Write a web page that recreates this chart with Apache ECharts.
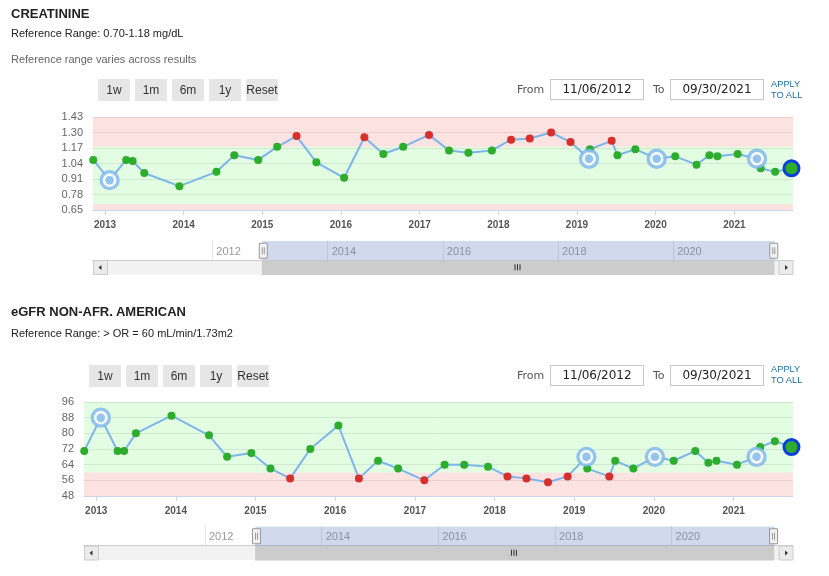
<!DOCTYPE html>
<html lang="en">
<head>
<meta charset="utf-8">
<title>CREATININE / eGFR</title>
<script src="https://cdn.jsdelivr.net/npm/echarts@6.0.0/dist/echarts.min.js"></script>
<style>
    html, body {
        width: 829px;
        height: 576px;
        margin: 0;
        padding: 0;
        background: #fff;
        overflow: hidden;
        font-family: "Liberation Sans", Arial, sans-serif;
    }
    #main {
        position: absolute;
        left: 0;
        top: 0;
        width: 829px;
        height: 576px;
    }
    .t { position: absolute; white-space: nowrap; z-index: 2; }
    .title { left: 11px; font-size: 13px; line-height: 15px; font-weight: bold; color: #222; }
    .ref { left: 11px; font-size: 11px; line-height: 13px; color: #222; }
    .note { left: 11px; font-size: 11px; line-height: 13px; color: #666; }
    .btn {
        position: absolute; z-index: 2; width: 32px; height: 22px;
        background: #e6e6e6; color: #333; font-size: 12px; line-height: 22px; text-align: center;
    }
    .lbl { font-family: "DejaVu Sans", sans-serif; font-size: 11px; line-height: 21px; color: #555; }
    .inp {
        position: absolute; z-index: 2; width: 94px; height: 21px; box-sizing: border-box;
        border: 1px solid #c8c8c8; background: #fff; text-align: center;
        font-family: "DejaVu Sans", sans-serif; font-size: 12px; line-height: 19px; color: #222;
    }
    .apply { left: 771px; font-size: 9.3px; line-height: 11.3px; color: #236fa1; }
</style>
</head>
<body>
<!-- creatinine header -->
<div class="t title" style="top:5.6px">CREATININE</div>
<div class="t ref" style="top:27px">Reference Range: 0.70-1.18 mg/dL</div>
<div class="t note" style="top:52.6px">Reference range varies across results</div>
<div class="btn" style="left:98px;top:79px">1w</div>
<div class="btn" style="left:135px;top:79px">1m</div>
<div class="btn" style="left:172px;top:79px">6m</div>
<div class="btn" style="left:209px;top:79px">1y</div>
<div class="btn" style="left:246px;top:79px">Reset</div>
<div class="t lbl" style="left:517px;top:79px">From</div>
<div class="inp" style="left:550px;top:79px">11/06/2012</div>
<div class="t lbl" style="left:653px;top:79px">To</div>
<div class="inp" style="left:670px;top:79px">09/30/2021</div>
<div class="t apply" style="top:78.5px">APPLY<br>TO ALL</div>

<!-- eGFR header -->
<div class="t title" style="top:304px">eGFR NON-AFR. AMERICAN</div>
<div class="t ref" style="top:327px">Reference Range: &gt; OR = 60 mL/min/1.73m2</div>
<div class="btn" style="left:89px;top:365px">1w</div>
<div class="btn" style="left:126px;top:365px">1m</div>
<div class="btn" style="left:163px;top:365px">6m</div>
<div class="btn" style="left:200px;top:365px">1y</div>
<div class="btn" style="left:237px;top:365px">Reset</div>
<div class="t lbl" style="left:517px;top:365px">From</div>
<div class="inp" style="left:550px;top:365px">11/06/2012</div>
<div class="t lbl" style="left:653px;top:365px">To</div>
<div class="inp" style="left:670px;top:365px">09/30/2021</div>
<div class="t apply" style="top:364px">APPLY<br>TO ALL</div>

<div id="main"></div>
<script>
    // result dates (shared by both tests)
    var dates = ['2012-11-07', '2013-01-22', '2013-04-09', '2013-05-09', '2013-07-02', '2013-12-12',
        '2014-06-02', '2014-08-24', '2014-12-13', '2015-03-11', '2015-06-09', '2015-09-09',
        '2016-01-16', '2016-04-19', '2016-07-16', '2016-10-16', '2017-02-13', '2017-05-17',
        '2017-08-15', '2017-12-02', '2018-03-01', '2018-05-27', '2018-09-03', '2018-12-02',
        '2019-02-26', '2019-03-02', '2019-06-11', '2019-07-08', '2019-09-29', '2020-01-06',
        '2020-04-01', '2020-07-09', '2020-09-07', '2020-10-14', '2021-01-16', '2021-04-16',
        '2021-05-03', '2021-07-09', '2021-09-23'];
    var creatinine = [1.07, 0.90, 1.07, 1.06, 0.96, 0.85, 0.97, 1.11, 1.07, 1.18, 1.27, 1.05,
        0.92, 1.26, 1.12, 1.18, 1.28, 1.15, 1.13, 1.15, 1.24, 1.25, 1.30, 1.22,
        1.08, 1.16, 1.23, 1.11, 1.16, 1.08, 1.10, 1.03, 1.11, 1.10, 1.12, 1.08,
        1.00, 0.97, 1.00];
    var egfr = [71, 88, 71, 71, 80, 89, 79, 68, 70, 62, 57, 72,
        84, 57, 66, 62, 56, 64, 64, 63, 58, 57, 55, 58,
        68, 62, 58, 66, 62, 68, 66, 71, 65, 66, 64, 68,
        73, 76, 73];
    // results drawn with the ringed marker
    var flagged = [1, 24, 29, 35];

    var creatRange = [0.70, 1.18];
    var creatAxis = [0.65, 1.43, 0.13];
    var egfrRange = [60, 96];
    var egfrAxis = [48, 96, 8];

    var yearTicks = [2013, 2014, 2015, 2016, 2017, 2018, 2019, 2020, 2021];
    var navYears = [2012, 2014, 2016, 2018, 2020];
    var viewRange = ['2012-11-06', '2021-09-30'];
    var navRange = ['2009-12-05', '2022-01-30'];

    var GREEN = '#2cae2c', RED = '#d7302c', LINE = '#7cb5ec';

    // dates are kept as milliseconds on a plain value axis
    function ts(s) {
        var p = s.split('-');
        return new Date(+p[0], +p[1] - 1, +p[2]).getTime();
    }
    function yearTs(list) {
        return list.map(function (y) { return new Date(y, 0, 1).getTime(); });
    }
    function yearLabel(v) { return String(new Date(v + 36e5).getFullYear()); }

    var panels = [
        {values: creatinine, axis: creatAxis, range: creatRange, digits: 2,
            left: 93, width: 700, top: 117, height: 93, navTop: 240.5},
        {values: egfr, axis: egfrAxis, range: egfrRange, digits: 0,
            left: 84, width: 709, top: 402, height: 94, navTop: 526}
    ];

    var option = {
        animation: false,
        textStyle: {fontFamily: 'Liberation Sans'},
        grid: [], xAxis: [], yAxis: [], series: [], dataZoom: [], graphic: []
    };

    panels.forEach(function (p, k) {
        var g = k * 3;
        var lo = p.range[0], hi = p.range[1];
        var isOut = function (v) { return v < lo || v > hi; };

        option.grid.push(
            {left: p.left, top: p.top, width: p.width, height: p.height},
            {left: p.left, top: p.navTop, width: p.width, height: 19.5},
            {left: p.left, top: p.navTop + 19.5, width: p.width, height: 14.5,
                show: true, backgroundColor: '#f2f2f2', borderWidth: 0}
        );

        option.xAxis.push({
            type: 'value', gridIndex: g, min: ts(navRange[0]), max: ts(navRange[1]),
            axisLine: {lineStyle: {color: '#ccd6eb'}},
            axisTick: {customValues: yearTs(yearTicks), length: 5, lineStyle: {color: '#ccd6eb'}},
            axisLabel: {customValues: yearTs(yearTicks), formatter: yearLabel, margin: 10,
                fontSize: 10, fontWeight: 'bold', color: '#555'},
            splitLine: {show: false}
        }, {
            type: 'value', gridIndex: g + 1, position: 'top', min: ts(navRange[0]), max: ts(navRange[1]),
            axisLine: {lineStyle: {color: '#cccccc'}},
            axisTick: {show: false, customValues: yearTs(navYears)},
            axisLabel: {customValues: yearTs(navYears), formatter: yearLabel, inside: true, margin: 11,
                align: 'left', verticalAlign: 'middle', padding: [0, 0, 0, 4], fontSize: 11, color: '#999'},
            splitLine: {show: true, lineStyle: {color: '#e6e6e6'}}
        }, {
            type: 'value', gridIndex: g + 2, show: false
        });

        option.yAxis.push({
            type: 'value', gridIndex: g, min: p.axis[0], max: p.axis[1], interval: p.axis[2],
            axisLine: {show: false}, axisTick: {show: false},
            axisLabel: {formatter: function (v) { return v.toFixed(p.digits); },
                margin: 10, fontSize: 11, color: '#666'},
            splitLine: {lineStyle: {color: '#e6e6e6'}}
        }, {
            type: 'value', gridIndex: g + 1, show: false
        }, {
            type: 'value', gridIndex: g + 2, show: false
        });

        var pts = dates.map(function (d, i) {
            var item = {value: [ts(d), p.values[i]], itemStyle: {color: isOut(p.values[i]) ? RED : GREEN}};
            if (flagged.indexOf(i) >= 0) item.symbol = 'none';
            if (i === dates.length - 1) {
                item.symbolSize = 15;
                item.itemStyle.borderColor = '#0b3fd9';
                item.itemStyle.borderWidth = 3;
            }
            return item;
        });
        var marked = flagged.map(function (i) { return [ts(dates[i]), p.values[i]]; });

        option.series.push({
            type: 'line', xAxisIndex: g, yAxisIndex: g, data: pts,
            symbol: 'circle', symbolSize: 8,
            lineStyle: {color: LINE, width: 2},
            markArea: {
                silent: true, label: {show: false},
                data: [
                    [{yAxis: hi, itemStyle: {color: 'rgba(245,110,110,0.2)'}}, {yAxis: p.axis[1]}],
                    [{yAxis: lo, itemStyle: {color: 'rgba(110,245,110,0.2)'}}, {yAxis: hi}],
                    [{yAxis: p.axis[0], itemStyle: {color: 'rgba(245,110,110,0.2)'}}, {yAxis: lo}]
                ]
            }
        }, {
            type: 'scatter', xAxisIndex: g, yAxisIndex: g, data: marked, z: 3,
            symbolSize: 17, itemStyle: {color: '#fff', borderColor: LINE, borderWidth: 3.3}
        }, {
            type: 'scatter', xAxisIndex: g, yAxisIndex: g, data: marked, z: 4,
            symbolSize: 8.5, itemStyle: {color: LINE}
        });

        var zoomBase = {
            type: 'slider', xAxisIndex: g, left: p.left, width: p.width,
            startValue: ts(viewRange[0]), endValue: ts(viewRange[1]),
            showDetail: false, showDataShadow: false, brushSelect: false,
            backgroundColor: 'rgba(0,0,0,0)', borderColor: 'rgba(0,0,0,0)', borderRadius: 0
        };
        // navigator mask with its two handles
        option.dataZoom.push(Object.assign({}, zoomBase, {
            top: p.navTop, height: 19.5,
            fillerColor: 'rgba(102,133,194,0.3)',
            handleIcon: 'path://M0,0h8v15h-8z M3,4v7 M5,4v7',
            handleSize: 15,
            handleStyle: {color: '#f2f2f2', borderColor: '#999999', borderWidth: 1}
        }));
        // scrollbar thumb
        option.dataZoom.push(Object.assign({}, zoomBase, {
            top: p.navTop + 19.5, height: 14.5,
            fillerColor: '#cccccc',
            handleSize: 0, handleStyle: {opacity: 0}
        }));

        // scrollbar end buttons
        var by = p.navTop + 19.5, bx = [p.left, p.left + p.width - 14.5];
        bx.forEach(function (x, j) {
            option.graphic.push({
                type: 'rect', z: 100, shape: {x: x + 0.5, y: by + 0.5, width: 14, height: 14},
                style: {fill: '#ebebeb', stroke: '#cccccc', lineWidth: 1}
            }, {
                type: 'polygon', z: 101,
                shape: {points: j === 0
                    ? [[x + 5.5, by + 7.5], [x + 8.5, by + 5], [x + 8.5, by + 10]]
                    : [[x + 9.5, by + 7.5], [x + 6.5, by + 5], [x + 6.5, by + 10]]},
                style: {fill: '#333'}
            });
        });
    });

    var myChart = echarts.init(document.getElementById('main'));
    myChart.setOption(option);

    // grip lines in the middle of each scrollbar thumb
    var grips = [];
    panels.forEach(function (p, k) {
        var mid = (ts(viewRange[0]) + ts(viewRange[1])) / 2;
        var cx = myChart.convertToPixel({xAxisIndex: k * 3 + 1}, mid);
        var cy = p.navTop + 19.5 + 7.25;
        [-2.5, 0, 2.5].forEach(function (dx) {
            grips.push({type: 'line', z: 102,
                shape: {x1: cx + dx, y1: cy - 3, x2: cx + dx, y2: cy + 3},
                style: {stroke: '#333', lineWidth: 1}});
        });
    });
    myChart.setOption({graphic: option.graphic.concat(grips)});
</script>
</body>
</html>
